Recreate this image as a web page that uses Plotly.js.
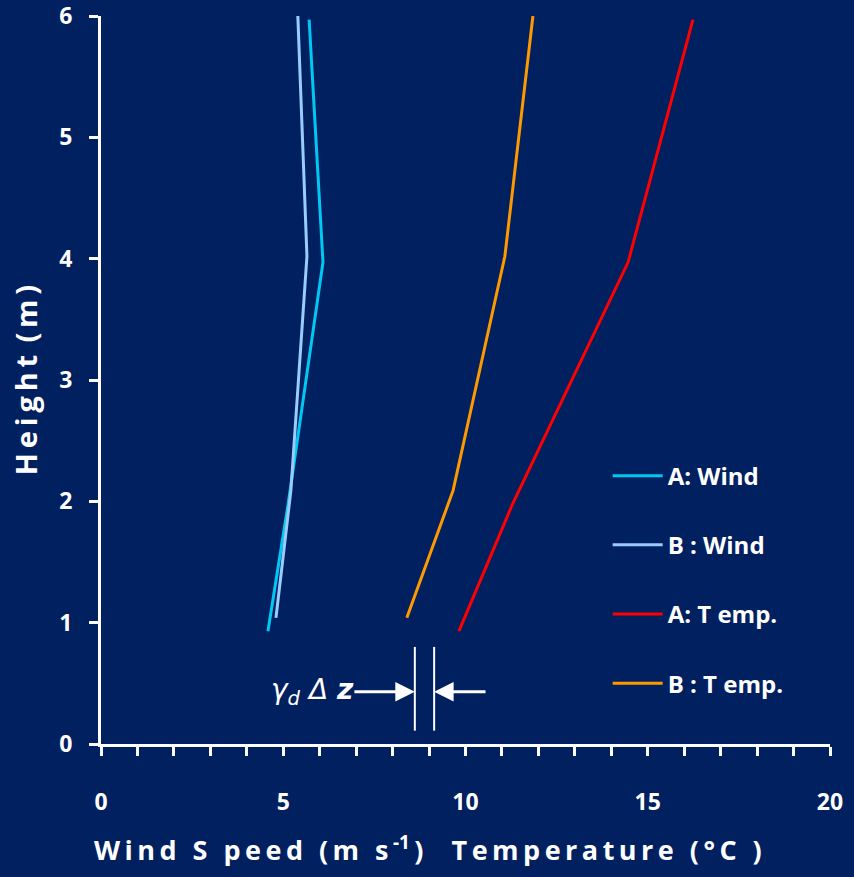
<!DOCTYPE html>
<html>
<head>
<meta charset="utf-8">
<script src="https://cdn.plot.ly/plotly-3.0.1.min.js"></script>
<style>html,body{margin:0;padding:0;background:#002060;}#chart{width:854px;height:877px;}</style>
</head>
<body>
<div id="chart"></div>
<script>
// Data
const windA_speed = [4.58, 5.13, 6.09, 5.71];
const windA_height = [0.93, 1.97, 3.97, 5.97];
const windB_speed = [4.80, 5.21, 5.65, 5.40];
const windB_height = [1.04, 2.09, 4.02, 6.00];
const tempA_value = [9.82, 11.28, 14.46, 16.24];
const tempA_height = [0.93, 1.97, 3.97, 5.97];
const tempB_value = [8.39, 9.66, 11.08, 11.85];
const tempB_height = [1.04, 2.09, 4.02, 6.00];
const seriesNames = ['A: Wind', 'B : Wind', 'A: T emp.', 'B : T emp.'];
const xTickVals = [0, 5, 10, 15, 20];
const yTickVals = [0, 1, 2, 3, 4, 5, 6];
// lapse-rate marker annotation (γd Δz)
const gammaLinesX = [8.61, 9.14];
const gammaLinesY = [0.11, 0.80];
const gammaArrowY = 0.43;
const gammaTextX = 5.8;
const gammaArrowRightFrom = 10.59;

const fontFam = '"Open Sans", Lato, sans-serif';
const white = '#ffffff';
const colors = ['#00c8f5', '#99ccff', '#ff0000', '#ff9900'];

const xs = [windA_speed, windB_speed, tempA_value, tempB_value];
const ys = [windA_height, windB_height, tempA_height, tempB_height];
const traces = xs.map((x, i) => ({
  x: x, y: ys[i], type: 'scatter', mode: 'lines', name: seriesNames[i],
  legendgroup: 'g' + i,
  line: {color: colors[i], width: 3}
}));

const ts = '\u2009';
const spread = s => s.split('').join(ts);
const xTitle = spread('Wind S peed (m s') + ts + '<sup>-1</sup>' + ts + ')' + '\u00a0\u00a0\u00a0 ' + spread('Temperature (°C )');

const layout = {
  width: 854, height: 877,
  paper_bgcolor: '#002060', plot_bgcolor: '#002060',
  margin: {l: 101, r: 24, t: 16, b: 133},
  showlegend: true,
  legend: {
    x: 0.695, xanchor: 'left', y: 0.399, yanchor: 'top',
    bgcolor: 'rgba(0,0,0,0)',
    font: {family: fontFam, size: 24, color: white, weight: 'bold'},
    tracegroupgap: 35, itemwidth: 50
  },
  xaxis: {
    range: [0, 20], tickvals: xTickVals, showgrid: false, zeroline: false,
    showline: true, linecolor: white, linewidth: 3,
    ticks: 'outside', ticklen: 9, tickwidth: 3, tickcolor: white,
    ticklabelstandoff: 26, ticklabeloverflow: 'allow',
    minor: {dtick: 1, ticks: 'outside', ticklen: 9, tickwidth: 3, tickcolor: white, showgrid: false},
    tickfont: {family: fontFam, size: 23, color: white, weight: 'bold'}
  },
  yaxis: {
    range: [0, 6], tickvals: yTickVals, showgrid: false, zeroline: false,
    showline: true, linecolor: white, linewidth: 3,
    ticks: 'outside', ticklen: 9, tickwidth: 3, tickcolor: white,
    ticklabelstandoff: 12, ticklabeloverflow: 'allow',
    tickfont: {family: fontFam, size: 23, color: white, weight: 'bold'},
    title: {text: ['H','e','i','g','h','t',' (','m',')'].join(ts), standoff: 14,
      font: {family: fontFam, size: 29, color: white, weight: 'bold'}}
  },
  shapes: gammaLinesX.map(x => ({
    type: 'line', xref: 'x', yref: 'y', x0: x, x1: x, y0: gammaLinesY[0], y1: gammaLinesY[1],
    line: {color: white, width: 2}
  })),
  annotations: [
    {x: 0.449, y: -0.143, xref: 'paper', yref: 'paper', xanchor: 'center', yanchor: 'middle',
     text: xTitle, showarrow: false,
     font: {family: fontFam, size: 27, color: white, weight: 'bold'}},
    {x: gammaLinesX[0], y: gammaArrowY, ax: gammaTextX, ay: gammaArrowY,
     xref: 'x', yref: 'y', axref: 'x', ayref: 'y',
     text: '<i>γ</i><sub><i>d</i></sub> <i>Δ</i> <b><i>z</i></b>', showarrow: true,
     font: {family: '"DejaVu Sans", sans-serif', size: 28, color: white},
     arrowhead: 2, arrowsize: 1.3, arrowwidth: 3, arrowcolor: white, standoff: 0, borderpad: 0},
    {x: gammaLinesX[1], y: gammaArrowY, ax: gammaArrowRightFrom, ay: gammaArrowY,
     xref: 'x', yref: 'y', axref: 'x', ayref: 'y', text: '', showarrow: true,
     arrowhead: 2, arrowsize: 1.3, arrowwidth: 3, arrowcolor: white, standoff: 0}
  ]
};

Plotly.newPlot('chart', traces, layout, {displayModeBar: false, staticPlot: true});
</script>
</body>
</html>
